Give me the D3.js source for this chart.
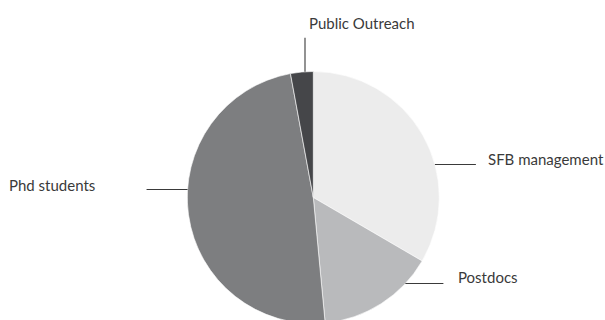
<!DOCTYPE html>
<html>
<head>
<meta charset="utf-8">
<script src="https://cdn.jsdelivr.net/npm/d3@7"></script>
<style>
  html, body { margin: 0; padding: 0; background: #fff; }
  svg { display: block; }
  text { font-family: Lato, "Open Sans", sans-serif; font-size: 15px; fill: #3a3a3a; }
</style>
</head>
<body>
<svg id="chart" width="605" height="320"></svg>
<script>
// Budget shares per cost item, clockwise from 12 o'clock
const categories = ["SFB management", "Postdocs", "Phd students", "Public Outreach"];
const shares = [33.4, 15.1, 48.6, 2.9];
const sliceColors = ["#ececec", "#b9babc", "#7d7e80", "#454649"];

const width = 605, height = 320;
const cx = 313.3, cy = 197.5, radius = 126;

// Callout layout: each label has a leader line touching the rim of the pie
// (horizontal lines anchored at a given height, vertical ones at a given x)
const callouts = {
  "SFB management":  { dir: "h", at: 164.5, len: 41, tx: 488, ty: 165 },
  "Postdocs":        { dir: "h", at: 283.5, len: 38, tx: 458, ty: 283 },
  "Phd students":    { dir: "h", at: 189.5, len: -41, tx: 9, ty: 191 },
  "Public Outreach": { dir: "v", at: 305, len: -34, tx: 309, ty: 29 }
};

const svg = d3.select("#chart");

const pie = d3.pie().sort(null).value(d => d.v);
const arc = d3.arc().innerRadius(0).outerRadius(radius);
const data = categories.map((c, i) => ({ name: c, v: shares[i], color: sliceColors[i] }));

const g = svg.append("g").attr("transform", `translate(${cx},${cy})`);
g.selectAll("path")
  .data(pie(data))
  .join("path")
  .attr("d", arc)
  .attr("fill", d => d.data.color)
  .attr("stroke", "#ffffff")
  .attr("stroke-width", 0.6);

// Leader lines and labels
const lines = svg.append("g").attr("stroke", "#3a3a3a").attr("stroke-width", 1.1);
categories.forEach(name => {
  const c = callouts[name];
  if (c.dir === "h") {
    const dy = c.at - cy;
    const dx = Math.sqrt(radius * radius - dy * dy);
    const x0 = c.len > 0 ? cx + dx : cx - dx;
    lines.append("line").attr("x1", x0).attr("x2", x0 + c.len).attr("y1", c.at).attr("y2", c.at);
  } else {
    const dx = c.at - cx;
    const dy = Math.sqrt(radius * radius - dx * dx);
    const y0 = c.len < 0 ? cy - dy : cy + dy;
    lines.append("line").attr("x1", c.at).attr("x2", c.at).attr("y1", y0).attr("y2", y0 + c.len);
  }
  svg.append("text").attr("x", c.tx).attr("y", c.ty).text(name);
});
</script>
</body>
</html>
